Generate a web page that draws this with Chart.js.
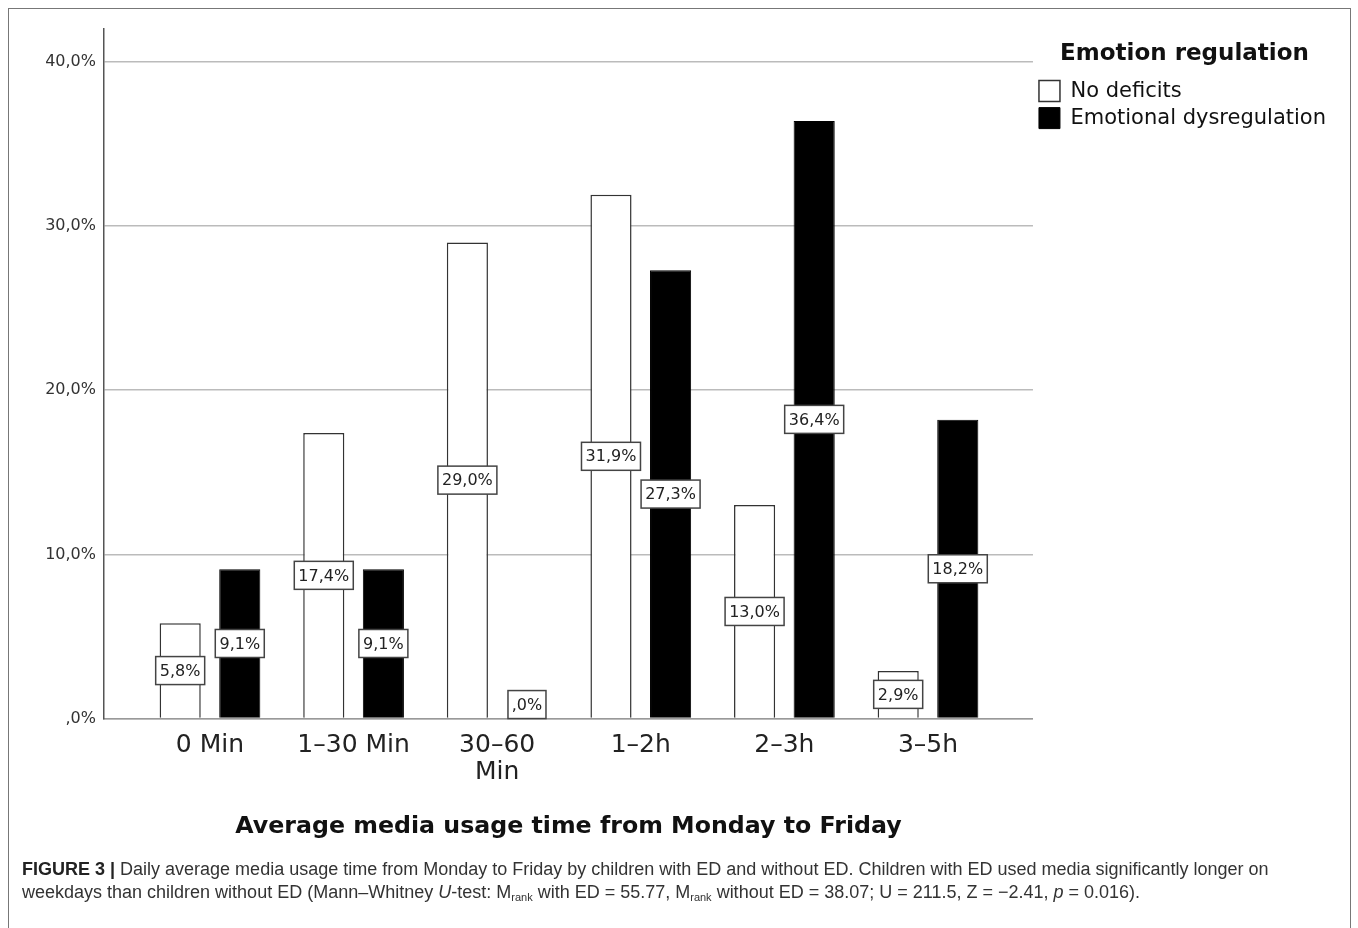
<!DOCTYPE html>
<html><head><meta charset="utf-8">
<script src="https://cdn.jsdelivr.net/npm/chart.js@4.4.0/dist/chart.umd.min.js"></script>
<style>
html,body{margin:0;padding:0;background:#fff;width:1358px;height:928px;overflow:hidden;}
#wrap{position:absolute;left:0;top:0;width:1358px;height:850px;}
#frame{position:absolute;left:8px;top:8px;width:1341px;height:1000px;border:1.5px solid #777;}
#cap{position:absolute;left:22px;top:858px;font-family:"Liberation Sans",Arial,sans-serif;font-size:18px;line-height:23px;color:#333;white-space:nowrap;}
#cap b{color:#222;}
#cap sub{font-size:11px;vertical-align:-3px;line-height:0;}
</style></head><body>
<div id="wrap"><canvas id="c"></canvas></div>
<div id="frame"></div>
<div id="cap"><b>FIGURE 3 |</b> Daily average media usage time from Monday to Friday by children with ED and without ED. Children with ED used media significantly longer on<br>weekdays than children without ED (Mann–Whitney <i>U</i>-test: M<sub>rank</sub> with ED = 55.77, M<sub>rank</sub> without ED = 38.07; U = 211.5, Z = −2.41, <i>p</i> = 0.016).</div>
<script>
const categories = ['0 Min', '1–30 Min', ['30–60', 'Min'], '1–2h', '2–3h', '3–5h'];
const noDeficits = [5.8, 17.4, 29.0, 31.9, 13.0, 2.9];
const dysregulation = [9.1, 9.1, 0.0, 27.3, 36.4, 18.2];
const yTicks = [0, 10, 20, 30, 40];
const seriesNames = ['No deficits', 'Emotional dysregulation'];
const legendTitle = 'Emotion regulation';
const xTitle = 'Average media usage time from Monday to Friday';

function pct(v) {
  let s = v.toFixed(1).replace('.', ',');
  if (s.startsWith('0,')) s = s.slice(1);
  return s + '%';
}

Chart.defaults.font.family = '"DejaVu Sans", sans-serif';
Chart.defaults.color = '#222';

const boxLabels = {
  id: 'boxLabels',
  afterDatasetsDraw(chart) {
    const ctx = chart.ctx;
    ctx.save();
    ctx.font = '16px "DejaVu Sans"';
    ctx.textAlign = 'center';
    ctx.textBaseline = 'middle';
    chart.data.datasets.forEach((ds, di) => {
      const meta = chart.getDatasetMeta(di);
      meta.data.forEach((bar, i) => {
        const txt = pct(ds.data[i].y);
        const w = Math.round(ctx.measureText(txt).width + 8), h = 28;
        let cy = (bar.y + bar.base) / 2;
        cy = Math.min(cy, bar.base - h / 2);
        const cx = bar.x;
        ctx.fillStyle = '#fff';
        ctx.fillRect(cx - w / 2, cy - h / 2, w, h);
        ctx.strokeStyle = '#444';
        ctx.lineWidth = 1.5;
        ctx.strokeRect(cx - w / 2, cy - h / 2, w, h);
        ctx.fillStyle = '#222';
        ctx.fillText(txt, cx, cy + 1);
      });
    });
    ctx.restore();
  }
};

new Chart(document.getElementById('c'), {
  type: 'bar',
  data: {
    datasets: [
      { label: seriesNames[0], data: noDeficits.map((v, i) => ({ x: i, y: v })),
        backgroundColor: '#fff', borderColor: '#333', borderWidth: 1.5 },
      { label: seriesNames[1], data: dysregulation.map((v, i) => ({ x: i, y: v })),
        backgroundColor: '#000', borderColor: '#000', borderWidth: 1 }
    ]
  },
  options: {
    responsive: true,
    maintainAspectRatio: false,
    animation: false,
    categoryPercentage: 0.83,
    barPercentage: 0.69,
    layout: { padding: { top: 29, right: 22, left: 0, bottom: 3 } },
    scales: {
      x: {
        type: 'linear',
        offset: false,
        min: -0.738,
        max: 5.731,
        afterBuildTicks: s => { s.ticks = categories.map((_, i) => ({ value: i })); },
        ticks: {
          autoSkip: false, maxRotation: 0, padding: 13,
          font: { size: 25, lineHeight: 1.1 }, color: '#222',
          callback: v => categories[v]
        },
        grid: { display: false, drawTicks: false },
        border: { display: true, color: '#999', width: 1.5 },
        title: { display: true, text: xTitle, color: '#111',
                 font: { size: 23.7, weight: 'bold' }, padding: { top: 13, bottom: 6 } }
      },
      y: {
        min: 0, max: 42,
        afterBuildTicks: s => { s.ticks = yTicks.map(v => ({ value: v })); },
        afterFit: s => { s.width = 104; },
        ticks: { padding: 8, font: { size: 16 }, color: '#333', callback: v => pct(v) },
        grid: { color: '#bbb', lineWidth: 1.5, drawTicks: false },
        border: { display: true, color: '#555', width: 1.5 }
      }
    },
    plugins: {
      tooltip: { enabled: false },
      legend: {
        position: 'right', align: 'start',
        title: { display: true, text: legendTitle, color: '#111',
                 font: { size: 23, weight: 'bold' }, padding: { top: 14, bottom: 4 } },
        labels: { boxWidth: 21, boxHeight: 21, padding: 6, color: '#111', font: { size: 21 } }
      }
    }
  },
  plugins: [boxLabels]
});
</script>
</body></html>
